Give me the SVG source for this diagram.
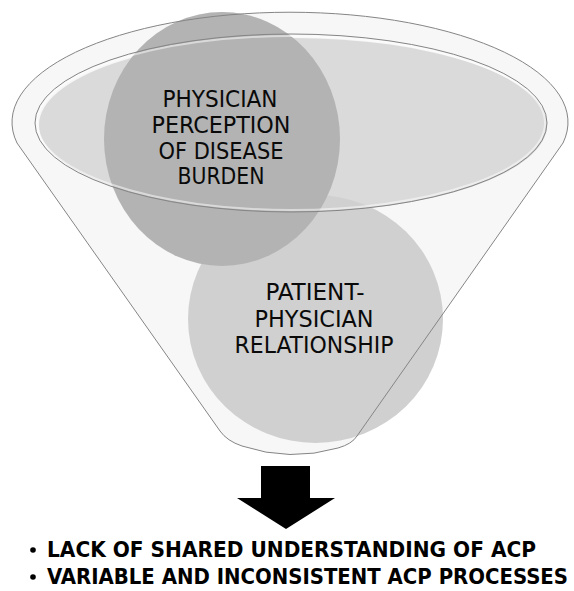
<svg xmlns="http://www.w3.org/2000/svg" width="574" height="591" viewBox="0 0 574 591">
<style>
.lbl{font-family:"DejaVu Sans Condensed","DejaVu Sans","Liberation Sans",sans-serif;font-stretch:condensed;font-size:23px;fill:#0a0a0a;text-anchor:middle}
.bul{font-family:"DejaVu Sans Condensed","DejaVu Sans","Liberation Sans",sans-serif;font-stretch:condensed;font-weight:bold;font-size:22px;fill:#000}
.edge{fill:none;stroke:#858585;stroke-width:1}
</style>
<rect width="574" height="591" fill="#ffffff"/>
<g id="funnel">
  <path id="funnel-body" d="M17,143 A278,110 0 1 1 563,143 L357,436 Q352,444 338,448 Q290,462 242,446 Q227,441 220,431 Z" fill="#f7f7f7"/>
  <ellipse id="rim-fill" cx="293" cy="125" rx="254" ry="87" fill="#dadada"/>
</g>
<g id="node-relationship">
  <ellipse cx="315.5" cy="319" rx="127.5" ry="124" fill="#d0d0d0"/>
</g>
<g id="node-perception">
  <ellipse cx="222" cy="139" rx="118" ry="127" fill="#b3b3b3"/>
</g>
<g id="funnel-outline">
  <path d="M17,143 A278,110 0 1 1 563,143 L357,436 Q352,444 338,448 Q290,462 242,446 Q227,441 220,431 Z" class="edge"/>
  <ellipse cx="291" cy="123" rx="254" ry="87" fill="none" stroke="#ffffff" stroke-opacity="0.5" stroke-width="2"/>
  <ellipse cx="291" cy="123" rx="256" ry="89" class="edge" stroke="#707070"/>
</g>
<g id="labels">
  <text class="lbl"><tspan x="220" y="107" textLength="115" lengthAdjust="spacingAndGlyphs">PHYSICIAN</tspan><tspan x="221" y="133" textLength="139" lengthAdjust="spacingAndGlyphs">PERCEPTION</tspan><tspan x="221" y="159" textLength="125" lengthAdjust="spacingAndGlyphs">OF DISEASE</tspan><tspan x="221" y="184" textLength="87" lengthAdjust="spacingAndGlyphs">BURDEN</tspan></text>
  <text class="lbl"><tspan x="315" y="300" textLength="99" lengthAdjust="spacingAndGlyphs">PATIENT-</tspan><tspan x="314" y="327" textLength="119" lengthAdjust="spacingAndGlyphs">PHYSICIAN</tspan><tspan x="314" y="353" textLength="159" lengthAdjust="spacingAndGlyphs">RELATIONSHIP</tspan></text>
</g>
<g id="connectors">
  <path id="arrow" d="M261,466 L310,466 L310,498 L335,498 L286,529 L237,498 L261,498 Z" fill="#000"/>
</g>
<g id="outcomes">
  <circle cx="33" cy="550" r="2.8" fill="#000"/>
  <text class="bul" x="47" y="557" textLength="489" lengthAdjust="spacingAndGlyphs">LACK OF SHARED UNDERSTANDING OF ACP</text>
  <circle cx="33" cy="577" r="2.8" fill="#000"/>
  <text class="bul" x="47" y="584" textLength="521" lengthAdjust="spacingAndGlyphs">VARIABLE AND INCONSISTENT ACP PROCESSES</text>
</g>
</svg>
